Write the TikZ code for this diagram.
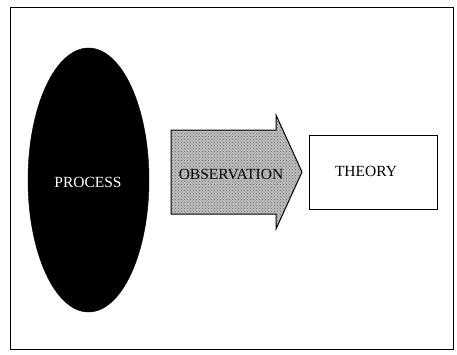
\documentclass[tikz,border=0pt]{standalone}
\usepackage{fontspec}
\setmainfont{Liberation Serif}
\usetikzlibrary{shapes.geometric,patterns}
\begin{document}
\begin{tikzpicture}[x=1pt,y=-1pt,
  lbl/.style={font=\fontsize{15.5}{17}\selectfont, inner sep=0pt}]
\useasboundingbox (0,0) rectangle (457,354);
\draw[line width=1pt] (10,7) rectangle (453,349);
% process ellipse
\node[ellipse, fill=black, draw=black, minimum width=121pt, minimum height=264pt, inner sep=0pt] (proc) at (88.5,180) {};
\node[lbl, text=white] (proctext) at (88,182) {PROCESS};
% observation arrow
\fill[gray!50] (171,130) -- (276,130) -- (276,115) -- (302,172) -- (276,229) -- (276,214) -- (171,214) -- cycle;
\fill[pattern=crosshatch dots, pattern color=black!60] (171,130) -- (276,130) -- (276,115) -- (302,172) -- (276,229) -- (276,214) -- (171,214) -- cycle;
\draw[line width=1pt, line join=miter] (171,130) -- (276,130) -- (276,115) -- (302,172) -- (276,229) -- (276,214) -- (171,214) -- cycle;
\node[lbl] (obs) at (231,174) {OBSERVATION};
% theory box
\node[draw, line width=0.8pt, minimum width=128pt, minimum height=74pt, inner sep=0pt] (theory) at (373,172) {};
\node[lbl] (theorytext) at (366,171) {THEORY};
\end{tikzpicture}
\end{document}
